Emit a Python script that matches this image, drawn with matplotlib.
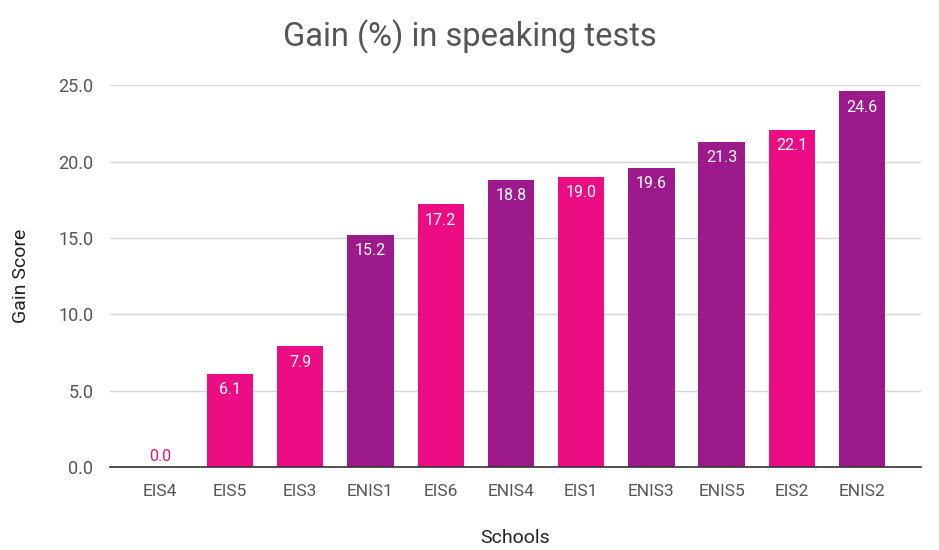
import numpy as np
import matplotlib.pyplot as plt

plt.rcParams['font.family'] = ['Roboto', 'DejaVu Sans']

schools = ["EIS4", "EIS5", "EIS3", "ENIS1", "EIS6", "ENIS4", "EIS1", "ENIS3", "ENIS5", "EIS2", "ENIS2"]
gain = [0.0, 6.1, 7.9, 15.2, 17.2, 18.8, 19.0, 19.6, 21.3, 22.1, 24.6]
group = ["EIS", "EIS", "EIS", "ENIS", "EIS", "ENIS", "EIS", "ENIS", "ENIS", "EIS", "ENIS"]

pink = "#EC0C84"
purple = "#9C1A8C"
colors = [pink if g == "EIS" else purple for g in group]

fig = plt.figure(figsize=(9.39, 5.5), dpi=100)
ax = fig.add_axes([0.117, 0.151, 0.864, 0.694])

x = np.arange(len(schools))
ax.bar(x, gain, width=0.66, color=colors, zorder=2)

for xi, v, c in zip(x, gain, colors):
    if v > 1.5:
        ax.text(xi, v - 0.55, f"{v:.1f}", ha="center", va="top", color="white", fontsize=11.5)
    else:
        ax.text(xi, v + 0.2, f"{v:.1f}", ha="center", va="bottom", color=c, fontsize=11.5)

ax.set_xlim(-0.71, 10.84)
ax.set_ylim(0, 25)
ax.set_yticks([0, 5, 10, 15, 20, 25])
ax.set_yticklabels(["0.0", "5.0", "10.0", "15.0", "20.0", "25.0"])
ax.set_xticks(x)
ax.set_xticklabels(schools)
ax.grid(axis="y", color="#d6d6d6", linewidth=1, zorder=0)
ax.tick_params(axis="both", length=0, colors="#555555")
ax.tick_params(axis="x", pad=12, labelsize=12.5)
ax.tick_params(axis="y", pad=12, labelsize=13)
for s in ["top", "right", "left"]:
    ax.spines[s].set_visible(False)
ax.spines["bottom"].set_color("#333333")
ax.spines["bottom"].set_linewidth(1.2)
ax.spines["bottom"].set_zorder(3)

ax.set_xlabel("Schools", fontsize=14, color="#222222", labelpad=22)
ax.set_ylabel("Gain Score", fontsize=14, color="#222222", labelpad=20)
fig.suptitle("Gain (%) in speaking tests", fontsize=23.5, color="#555555", y=0.965)

fig.savefig("out.png", dpi=100)
